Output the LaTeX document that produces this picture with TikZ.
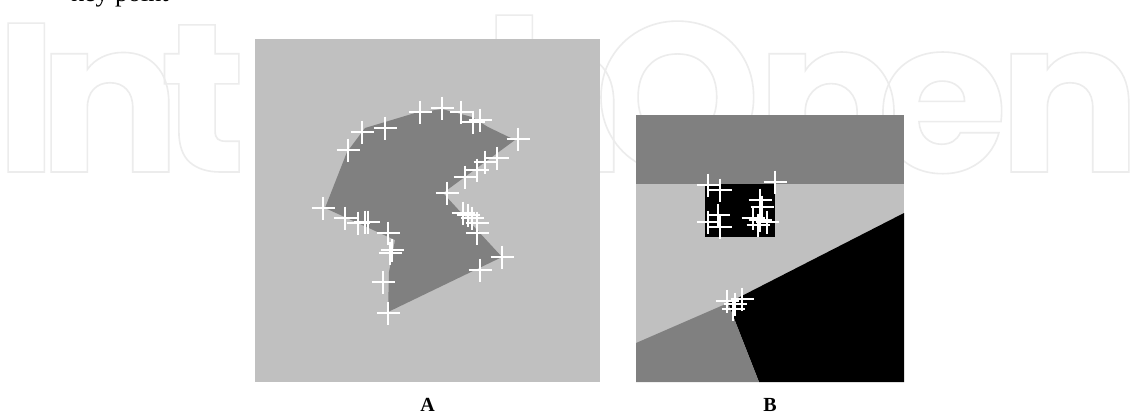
\documentclass[tikz,border=0pt]{standalone}
\usepackage{fontspec}
\setmainfont{Liberation Serif}
\newfontfamily\wmfont{Poppins}

\definecolor{panellight}{HTML}{C0C0C0}
\definecolor{panelmid}{HTML}{808080}
\definecolor{wmgray}{gray}{0.925}

% hollow (stroked only) glyphs
\newcommand\hollowtext[1]{\special{pdf:literal 1 Tr 1.6 w}#1\special{pdf:literal 0 Tr 0.4 w}}

\tikzset{
  pics/kp/.style={code={
    \draw[white,line width=1.8pt] (-11.5,0) -- (11.5,0) (0,-11.5) -- (0,11.5);}},
  wm/.style={anchor=base west,inner sep=0pt,outer sep=0pt,text=wmgray,
    font=\wmfont\bfseries\fontsize{212}{212}\selectfont},
  panellabel/.style={anchor=base,inner sep=0pt,
    font=\bfseries\fontsize{20}{20}\selectfont},
}

\begin{document}
\begin{tikzpicture}[x=1pt,y=-1pt]
\useasboundingbox (0,0) rectangle (1138,416);
\fill[white] (0,0) rectangle (1138,416);

% clipped tail of the text line above
\node[anchor=base west,inner sep=0pt,font=\fontsize{26}{26}\selectfont] (captail) at (71,1.5) {key point};

% background lettering
\node[wm] (w1) at (-5,172) {\hollowtext{I}};
\node[wm] (w2) at (38,172) {\hollowtext{n}};
\node[wm] (w3) at (160,172) {\hollowtext{t}};
\node[wm] (w4) at (250,172) {\hollowtext{e}};
\node[wm] (w5) at (370,172) {\hollowtext{c}};
\node[wm] (w6) at (483,172) {\hollowtext{h}};
\node[wm] (w7) at (594,172) {\hollowtext{O}};
\node[wm] (w8) at (756,172) {\hollowtext{p}};
\node[wm] (w9) at (877,172) {\hollowtext{e}};
\node[wm] (w10) at (998,172) {\hollowtext{n}};

% ---------- panel A ----------
\fill[panellight] (255,39) rectangle (600,382);
\fill[panelmid] (325,208) -- (347,152) -- (365,128) -- (415,113) -- (442,109)
  -- (472,117) -- (488,127) -- (515,140) -- (443,193) -- (502,257)
  -- (388,312) -- (389,272) -- (395,240) -- cycle;
\foreach \p in {(420,112),(442,108),(461,112),(473,122),(480,120),(518,139),
  (362,132),(385,128),(348,150),(497,158),(485,162),(477,170),(465,177),
  (447,193),(463,213),(468,215),(472,218),(477,223),(477,233),
  (323,208),(345,218),(358,223),(365,222),(368,222),(388,233),(392,250),
  (390,253),(383,282),(480,270),(502,257),(388,313)}
  \pic at \p {kp};

% ---------- panel B ----------
\fill[panellight] (636,115) rectangle (904,382);
\fill[panelmid] (636,115) rectangle (904,184);
\fill[black] (904,213) -- (728,303) -- (759,382) -- (904,382) -- cycle;
\fill[panelmid] (636,343) -- (728,303) -- (759,382) -- (636,382) -- cycle;
\fill[black] (705,184) rectangle (775,237);
\foreach \p in {(708,185),(720,190),(775,182),(760,200),(762,207),(718,215),
  (708,222),(720,227),(753,218),(760,220),(767,222),(758,225),
  (727,301),(735,304),(742,299),(733,309)}
  \pic at \p {kp};

% ---------- labels ----------
\node[panellabel] (labA) at (427.5,411) {A};
\node[panellabel] (labB) at (770,411) {B};
\end{tikzpicture}
\end{document}
